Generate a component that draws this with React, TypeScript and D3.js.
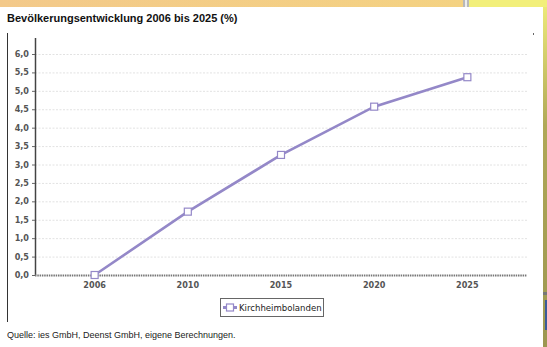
import * as d3 from 'd3';
import React, { useEffect, useRef } from 'react';

const years = ['2006', '2010', '2015', '2020', '2025'];
const values = [0, 1.72, 3.26, 4.57, 5.37];
const yTicks = [0, 0.5, 1, 1.5, 2, 2.5, 3, 3.5, 4, 4.5, 5, 5.5, 6];
const seriesName = 'Kirchheimbolanden';
const title = 'Bevölkerungsentwicklung 2006 bis 2025 (%)';
const source = 'Quelle: ies GmbH, Deenst GmbH, eigene Berechnungen.';

const App: React.FC = () => {
  const svgRef = useRef<SVGSVGElement>(null);

  useEffect(() => {
    const W = 547;
    const H = 347;
    const svg = d3.select(svgRef.current);
    svg.selectAll('*').remove();
    svg.attr('width', W).attr('height', H);

    const defs = svg.append('defs');
    const og = defs.append('linearGradient').attr('id', 'org').attr('x1', 0).attr('x2', 1);
    og.append('stop').attr('offset', '0%').attr('stop-color', '#f3c98a');
    og.append('stop').attr('offset', '100%').attr('stop-color', '#f4d282');
    const rg = defs.append('linearGradient').attr('id', 'rgt').attr('x1', 0).attr('x2', 0).attr('y1', 0).attr('y2', 1);
    rg.append('stop').attr('offset', '0%').attr('stop-color', '#ebe878');
    rg.append('stop').attr('offset', '35%').attr('stop-color', '#b0a858');
    rg.append('stop').attr('offset', '100%').attr('stop-color', '#9c9650');

    // surrounding page bits
    svg.append('rect').attr('width', W).attr('height', H).attr('fill', '#fff');
    svg.append('rect').attr('x', 0).attr('y', 0).attr('width', 463).attr('height', 7).attr('fill', 'url(#org)');
    svg.append('rect').attr('x', 463).attr('y', 0).attr('width', 6).attr('height', 7).attr('fill', '#b8b8b8');
    svg.append('rect').attr('x', 465).attr('y', 0).attr('width', 2).attr('height', 7).attr('fill', '#ececec');
    svg.append('rect').attr('x', 469).attr('y', 0).attr('width', W - 469).attr('height', 7).attr('fill', '#f2ef7a');
    svg.append('rect').attr('x', 543).attr('y', 7).attr('width', 4).attr('height', H - 7).attr('fill', 'url(#rgt)');
    svg.append('rect').attr('x', 543).attr('y', 292).attr('width', 4).attr('height', 3).attr('fill', '#777');
    svg.append('rect').attr('x', 545).attr('y', 300).attr('width', 2).attr('height', 30).attr('fill', '#3a5a9a');

    // frame line on the left
    svg.append('line').attr('x1', 7.5).attr('x2', 7.5).attr('y1', 33).attr('y2', 322)
      .attr('stroke', '#333').attr('stroke-width', 1);
    svg.append('rect').attr('x', 533).attr('y', 33).attr('width', 1).attr('height', 2).attr('fill', '#666');

    svg.append('text').attr('x', 7).attr('y', 22)
      .attr('font-family', 'Liberation Sans, Arial, sans-serif')
      .attr('font-size', 11).attr('font-weight', 'bold').attr('fill', '#111')
      .text(title);

    const left = 35;
    const right = 527;
    const x = d3.scalePoint<string>().domain(years).range([left, right]).padding(0.64);
    const y = d3.scaleLinear().domain([0, 6]).range([275, 54]);

    const tickFont = 'DejaVu Sans Condensed, DejaVu Sans, sans-serif';

    // grid
    svg.append('g').selectAll('line').data(yTicks.filter((t) => t > 0)).enter().append('line')
      .attr('x1', left).attr('x2', right)
      .attr('y1', (d) => y(d) + 0.5).attr('y2', (d) => y(d) + 0.5)
      .attr('stroke', '#e2e2e2').attr('stroke-width', 1).attr('stroke-dasharray', '2,1.5');

    // y axis
    const ya = svg.append('g');
    ya.append('line').attr('x1', left + 0.5).attr('x2', left + 0.5).attr('y1', 38).attr('y2', 275)
      .attr('stroke', '#444').attr('stroke-width', 1.5);
    ya.selectAll('line.t').data(yTicks).enter().append('line')
      .attr('x1', left - 3).attr('x2', left).attr('y1', (d) => y(d) + 0.5).attr('y2', (d) => y(d) + 0.5)
      .attr('stroke', '#666');
    ya.selectAll('text').data(yTicks).enter().append('text')
      .attr('x', 29).attr('y', (d) => y(d) + 3)
      .attr('text-anchor', 'end').attr('font-family', tickFont).attr('font-stretch', 'condensed')
      .attr('font-size', 9).attr('font-weight', 'bold').attr('fill', '#555')
      .text((d) => d3.format('.1f')(d).replace('.', ','));

    // x axis
    svg.append('line').attr('x1', left).attr('x2', right).attr('y1', 275.5).attr('y2', 275.5)
      .attr('stroke', '#777').attr('stroke-width', 2).attr('stroke-dasharray', '1.5,0.8');
    svg.append('g').selectAll('text').data(years).enter().append('text')
      .attr('x', (d) => x(d)!).attr('y', 288)
      .attr('text-anchor', 'middle').attr('font-family', tickFont).attr('font-stretch', 'condensed')
      .attr('font-size', 9).attr('font-weight', 'bold').attr('fill', '#555')
      .text((d) => d);

    // series
    const color = '#9488c8';
    const line = d3.line<number>().x((_, i) => x(years[i])!).y((d) => y(d));
    svg.append('path').datum(values).attr('fill', 'none').attr('stroke', color)
      .attr('stroke-width', 2.6).attr('d', line);
    svg.append('g').selectAll('rect').data(values).enter().append('rect')
      .attr('x', (_, i) => x(years[i])! - 3.5).attr('y', (d) => y(d) - 3.5)
      .attr('width', 7).attr('height', 7)
      .attr('fill', '#fff').attr('stroke', color).attr('stroke-width', 1.2);

    // legend
    const lg = svg.append('g').attr('transform', 'translate(220,298)');
    lg.append('rect').attr('x', 0.5).attr('y', 0.5).attr('width', 103).attr('height', 18)
      .attr('fill', '#fff').attr('stroke', '#666');
    lg.append('line').attr('x1', 3).attr('x2', 17).attr('y1', 9.5).attr('y2', 9.5)
      .attr('stroke', color).attr('stroke-width', 3);
    lg.append('rect').attr('x', 6.5).attr('y', 6).attr('width', 7).attr('height', 7)
      .attr('fill', '#fff').attr('stroke', color).attr('stroke-width', 1.2);
    lg.append('text').attr('x', 19).attr('y', 13)
      .attr('font-family', tickFont).attr('font-stretch', 'condensed')
      .attr('font-size', 9.5).attr('fill', '#222').text(seriesName);

    svg.append('text').attr('x', 7).attr('y', 338)
      .attr('font-family', 'Liberation Sans, Arial, sans-serif')
      .attr('font-size', 9).attr('fill', '#222').text(source);
  }, []);

  return <svg ref={svgRef} style={{ position: 'absolute', left: 0, top: 0, display: 'block' }} />;
};

export default App;
